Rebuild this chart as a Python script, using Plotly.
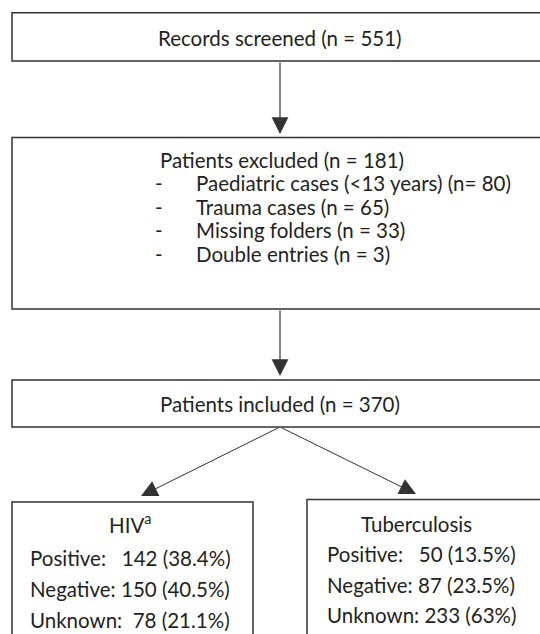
import plotly.graph_objects as go

# ---- data ----
screened = 551
excluded_total = 181
excluded_reasons = ["Paediatric cases (<13 years)", "Trauma cases", "Missing folders", "Double entries"]
excluded_eq = ["n=", "n =", "n =", "n ="]
excluded_counts = [80, 65, 33, 3]
included = 370
status_labels = ["Positive:", "Negative:", "Unknown:"]
hiv_gap = ["   ", " ", "  "]
hiv_counts = [142, 150, 78]
hiv_pct = ["38.4%", "40.5%", "21.1%"]
tb_gap = ["   ", " ", " "]
tb_counts = [50, 87, 233]
tb_pct = ["13.5%", "23.5%", "63%"]

W, H = 540, 634
FONT = "Lato"
FS = 20.5
TXT = "#231f20"
LINE = "#333333"

fig = go.Figure()
shapes = []
ann = []

def box(x0, y0, x1, y1):
    shapes.append(dict(type="rect", xref="x", yref="y", x0=x0, y0=y0, x1=x1, y1=y1,
                       line=dict(color=LINE, width=1.5), fillcolor="rgba(0,0,0,0)"))

def text(x, y, s, anchor="center", size=FS):
    ann.append(dict(x=x, y=y, xref="x", yref="y", text=s, showarrow=False,
                    xanchor=anchor, yanchor="middle",
                    font=dict(family=FONT, size=size, color=TXT)))

def arrow(x0, y0, x1, y1, w=1.2, s=2.8):
    ann.append(dict(x=x1, y=y1, ax=x0, ay=y0, xref="x", yref="y", axref="x", ayref="y",
                    text="", showarrow=True, arrowhead=2, arrowsize=s, arrowwidth=w,
                    arrowcolor=LINE, standoff=0))

nb = lambda s: s.replace(" ", "\u00a0")

# boxes
box(12, 12.7, 548, 61)
box(12, 137.5, 548, 309)
box(12, 380, 548, 427)
box(12, 502, 253, 680)
box(307, 499.5, 560, 680)

# arrows
arrow(280, 61, 280, 134)
arrow(280, 309, 280, 376)
arrow(280, 427, 141, 496, w=1.0, s=3.3)
arrow(280, 427, 416, 494, w=1.0, s=3.3)

# texts
text(280, 38, nb(f"Records screened (n = {screened})"))
text(158, 160, nb(f"Patients excluded (n = {excluded_total})"), "left")
for i, (r, e, c) in enumerate(zip(excluded_reasons, excluded_eq, excluded_counts)):
    y = 183 + i * 23.5
    text(153, y, "-", "left")
    text(194, y, nb(f"{r} ({e} {c})"), "left")
text(280, 404, nb(f"Patients included (n = {included})"))

text(130, 523, "HIV<sup>a</sup>")
for i, (lab, g, c, p) in enumerate(zip(status_labels, hiv_gap, hiv_counts, hiv_pct)):
    text(28, 558 + i * 31, nb(f"{lab}{g}{c} ({p})"), "left")

text(416, 524, "Tuberculosis")
for i, (lab, g, c, p) in enumerate(zip(status_labels, tb_gap, tb_counts, tb_pct)):
    text(325, 554 + i * 30.5, nb(f"{lab}{g}{c} ({p})"), "left")

fig.update_layout(
    width=W, height=H, margin=dict(l=0, r=0, t=0, b=0),
    paper_bgcolor="white", plot_bgcolor="white",
    xaxis=dict(range=[0, W], visible=False, fixedrange=True),
    yaxis=dict(range=[H, 0], visible=False, fixedrange=True),
    shapes=shapes, annotations=ann, showlegend=False,
)
fig.write_html("out.html", post_script="document.body.style.margin='0';", config={"displayModeBar": False})
